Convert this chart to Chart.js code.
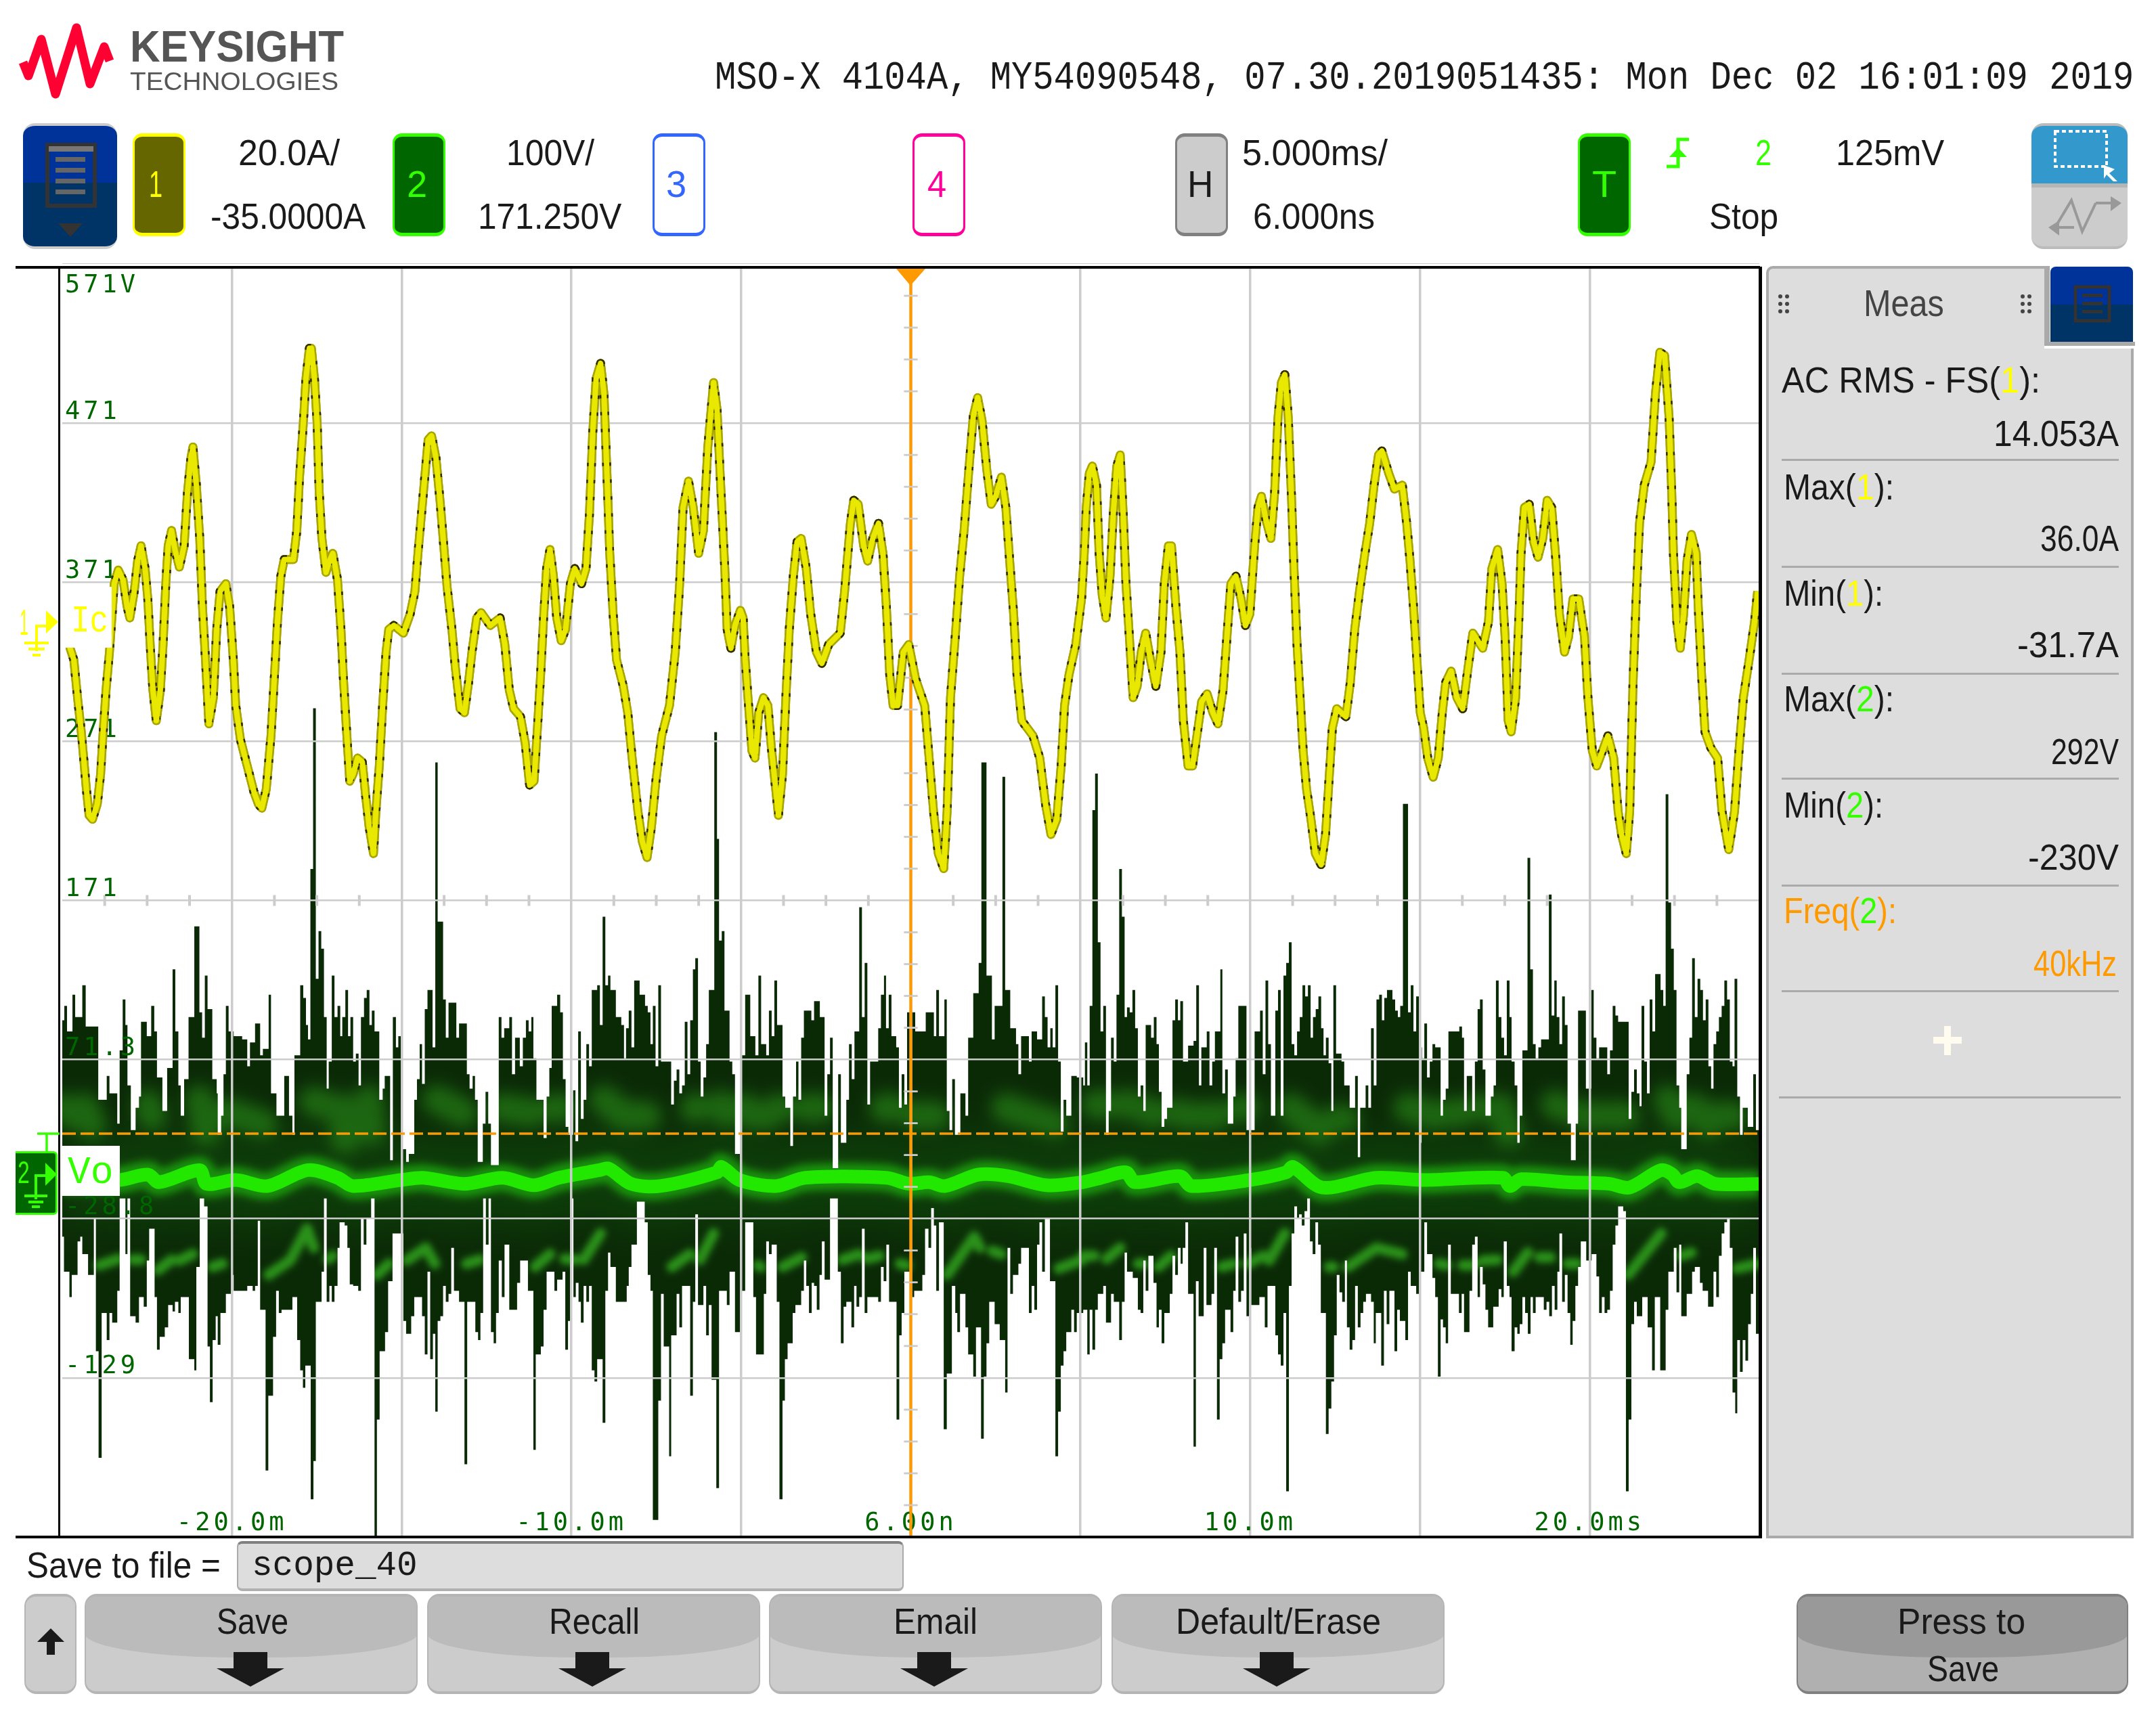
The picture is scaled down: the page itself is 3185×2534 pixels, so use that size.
<!DOCTYPE html>
<html>
<head>
<meta charset="utf-8">
<title>Scope capture</title>
<style>
  html, body { margin: 0; background: #fff; }
  #page { position: relative; width: 3185px; height: 2534px; overflow: hidden; }
  #page canvas { position: absolute; left: 0; top: 0; }
  .t, .b { position: absolute; }
  .t { white-space: pre; font-family: "Liberation Sans", sans-serif; color: #1a1a1a; transform-origin: 0 0; line-height: normal; }
</style>
<script src="https://cdn.jsdelivr.net/npm/chart.js@4"></script>
</head>
<body>
<div id="page"><canvas id="scope" width="3185" height="2534"></canvas></div>
<script>
// Axis ticks (5 ms/div, 100 V/div around 171.25 V, 20 A/div around -35 A)
const voltTicks = [571.25, 471.25, 371.25, 271.25, 171.25, 71.25, -28.75, -128.75, -228.75];
const voltLabels = [['', '', '571V'], '471', '371', '271', '171', '71.3', '-28.8', '-129', ''];
const timeTicks = [-20, -10, 0, 10, 20];
const timeLabels = ['-20.0m', '-10.0m', '6.00n', '10.0m', '20.0ms'];
const triggerVolts = 24.7;

// Channel 1, Ic (amps)
const ch1Time = [-25.02,-24.77,-24.66,-24.55,-24.44,-24.37,-24.29,-24.21,-24.11,-23.97,-23.87,-23.81,-23.71,-23.61,-23.47,-23.35,-23.21,-23.09,-23.01,-22.88,-22.78,-22.68,-22.56,-22.48,-22.41,-22.33,-22.23,-22.11,-22.03,-21.95,-21.88,-21.78,-21.68,-21.55,-21.41,-21.31,-21.21,-21.15,-21.05,-20.95,-20.87,-20.78,-20.68,-20.55,-20.45,-20.35,-20.18,-20.07,-19.96,-19.89,-19.75,-19.55,-19.35,-19.22,-19.12,-18.99,-18.85,-18.76,-18.66,-18.56,-18.46,-18.19,-18.09,-18.01,-17.90,-17.82,-17.72,-17.66,-17.57,-17.49,-17.43,-17.35,-17.23,-17.13,-17.03,-16.89,-16.79,-16.71,-16.63,-16.53,-16.43,-16.30,-16.16,-16.06,-15.96,-15.83,-15.76,-15.66,-15.56,-15.46,-15.38,-15.23,
  -14.95,-14.75,-14.61,-14.52,-14.42,-14.32,-14.22,-14.12,-13.99,-13.86,-13.76,-13.66,-13.52,-13.42,-13.28,-13.15,-13.03,-12.93,-12.79,-12.66,-12.39,-12.10,-11.96,-11.83,-11.70,-11.50,-11.36,-11.23,-11.10,-11.00,-10.90,-10.82,-10.73,-10.63,-10.53,-10.43,-10.30,-10.17,-10.03,-9.90,-9.70,-9.57,-9.47,-9.37,-9.27,-9.14,-9.04,-8.94,-8.87,-8.77,-8.67,-8.47,-8.34,-8.21,-8.04,-7.91,-7.77,-7.64,-7.51,-7.34,-7.11,-6.94,-6.81,-6.71,-6.55,-6.41,-6.25,-6.11,-5.98,-5.81,-5.71,-5.58,-5.48,-5.41,-5.30,-5.18,-5.02,
  -4.94,-4.88,-4.78,-4.68,-4.59,-4.48,-4.34,-4.21,-4.11,-3.98,-3.90,-3.78,-3.68,-3.58,-3.46,-3.35,-3.23,-3.08,-2.95,-2.78,-2.62,-2.42,-2.08,-1.95,-1.78,-1.68,-1.55,-1.39,-1.27,-1.12,-0.95,-0.82,-0.72,-0.62,-0.52,-0.39,-0.22,-0.06,0.14,0.41,0.54,0.67,0.81,0.97,1.07,1.17,1.31,1.44,1.57,1.71,1.84,1.97,2.10,2.24,2.37,2.50,2.67,2.80,2.93,3.03,3.13,3.27,3.60,3.80,3.97,4.13,4.30,4.43,4.53,4.66,4.86,5.03,
  5.11,5.17,5.26,5.35,5.47,5.55,5.64,5.75,5.87,5.97,6.07,6.17,6.26,6.34,6.44,6.55,6.67,6.79,6.92,7.06,7.22,7.37,7.47,7.59,7.68,7.81,7.93,8.03,8.17,8.30,8.43,8.57,8.73,8.90,9.05,9.20,9.33,9.43,9.58,9.73,9.86,9.99,10.13,10.23,10.33,10.46,10.61,10.72,10.82,10.92,11.02,11.12,11.22,11.29,11.38,11.47,11.56,11.66,11.79,11.92,12.09,12.22,12.32,12.42,12.55,12.82,12.95,13.08,13.22,13.38,13.52,13.65,13.78,13.88,14.08,14.25,14.48,14.61,14.71,14.81,14.91,15.01,
  15.11,15.23,15.39,15.54,15.66,15.76,15.92,16.09,16.26,16.42,16.56,16.85,17.02,17.12,17.29,17.42,17.51,17.60,17.69,17.82,17.92,17.98,18.08,18.22,18.35,18.48,18.62,18.75,18.88,19.01,19.11,19.26,19.38,19.51,19.68,19.85,19.95,20.08,20.21,20.38,20.54,20.71,20.84,20.94,21.08,21.18,21.28,21.37,21.47,21.61,21.81,21.94,22.07,22.21,22.34,22.42,22.47,22.57,22.67,22.77,22.87,23.00,23.14,23.20,23.30,23.40,23.57,23.77,23.90,24.10,24.27,24.40,24.53,24.70,24.86,24.95];
const ch1Amps = [4.05,-3.3,-4.74,-9.51,-13.8,-17.1,-21,-24.3,-24.8,-22.9,-19.1,-14.8,-8.55,-3.78,4.81,6.53,5.29,1.95,0.51,3.86,7.67,9.58,6.72,2.9,-2.83,-8.55,-12.4,-8.55,-2.83,4.81,9.58,11.5,9.11,6.91,9.58,16.3,20.6,22,17.2,10.5,1.95,-4.74,-12.8,-9.51,-0.92,3.86,4.81,1.95,-4.74,-10.5,-14.8,-18.1,-21.4,-22.9,-23.4,-21,-14.3,-7.6,0.03,5.76,7.86,7.86,11.5,18.2,24.9,30.6,34.4,34.4,30.6,24.9,16.3,10.5,6.24,7.67,8.63,5.29,-0.92,-7.6,-13.3,-20,-19.1,-17.1,-17.6,-21.9,-25.7,-29.1,-23.8,-18.1,-10.5,-3.78,-0.92,-0.44,
  -1.4,1,3.86,8.63,13.4,18.2,22.9,23.4,20.6,14.8,9.58,4.33,-0.92,-5.7,-10.9,-11.4,-7.6,-3.78,0.51,1.18,-0.44,0.51,-2.83,-8.55,-10.9,-11.9,-15.2,-20.5,-20,-13.3,-6.17,0.51,6.72,9.11,5.76,0.51,-2.35,-0.92,4.81,6.72,4.81,6.72,13.4,23.9,30.6,32.5,28.7,17.2,8.63,1,-4.74,-8.08,-11.4,-17.1,-23.8,-27.6,-29.6,-25.7,-20,-14.3,-10.5,-3.78,4.81,14.4,17.7,14.4,8.63,11.5,22,30.1,26.8,15.3,6.72,-0.92,-3.3,-0.44,1.47,
  0.51,-4.74,-10.5,-16.2,-17.1,-11.4,-9.51,-10.5,-15.7,-21,-24.3,-19.1,-9.51,-0.92,5.76,10.1,10.5,6.72,1,-3.78,-5.2,-2.83,-1.4,3.86,12.4,15.3,14.8,9.58,7.67,10.5,12.4,8.63,1.95,-6.65,-10.5,-10.5,-3.78,-2.83,-7.12,-10.5,-17.1,-23.8,-29.1,-31,-23.8,-9.51,-1.87,5.76,11.5,19.1,25.8,28.2,25.3,19.1,14.8,15.8,18.2,14.4,6.72,1,-6.65,-12.4,-14.3,-17.1,-22.9,-26.7,-24.8,-18.1,-10.5,-6.65,-2.83,2.9,
  8.63,14.4,18.7,19.6,17.2,8.63,3.38,0.51,5.76,13.9,19.6,21,13.4,4.81,-1.87,-9.51,-8.08,-3.78,-1.4,-4.74,-8.08,-3.78,4.81,9.58,9.58,1.95,-3.78,-12.4,-18.1,-18.1,-14.3,-10,-9.03,-11.4,-12.8,-8.55,-0.92,4.81,5.76,2.9,-0.44,1,9.58,14.4,15.8,12.9,10.5,16.3,25.8,30.1,31.1,25.8,15.3,6.72,-2.83,-9.51,-16.2,-21,-24.8,-29.1,-30.5,-26.7,-20,-13.3,-10.9,-11.9,-7.6,-0.92,3.86,8.63,12.4,17.2,21,21.5,18.7,16.7,17.2,12.4,7.67,1.95,-4.74,-11.4,
  -13.3,-17.1,-19.5,-17.1,-11.4,-7.6,-6.17,-9.51,-10.9,-5.69,-1.4,-3.3,0.03,6.72,9.11,4.81,-1.87,-12.4,-13.8,-9.51,1,8.63,14.4,14.8,10.1,8.15,10.5,15.3,14.4,7.67,1,-3.78,-1.87,2.9,2.9,-1.87,-9.51,-16.2,-18.1,-16.2,-14.3,-17.1,-23.8,-26.7,-29.1,-23.8,-7.6,2.9,12.4,17.2,20.1,28.7,33.9,33.5,25.8,16.3,8.63,0.03,-3.3,1,7.67,11,8.63,1.95,-6.65,-13.8,-15.8,-17.1,-23.8,-28.6,-23.8,-16.2,-9.51,-4.74,0.03,3.86];

// Channel 2, Vo: upper edge of the persistence envelope (volts)
const ch2UpperTime = [-25.07,-24.94,-24.86,-24.70,-24.62,-24.41,-24.31,-23.94,-23.69,-23.61,-23.38,-23.31,-23.22,-23.14,-23.08,-22.98,-22.84,-22.74,-22.68,-22.51,-22.38,-22.29,-22.21,-22.05,-21.91,-21.75,-21.67,-21.58,-21.51,-21.41,-21.28,-21.11,-20.96,-20.88,-20.80,-20.72,-20.58,-20.45,-20.42,-20.32,-20.25,-20.18,-20.10,-19.95,-19.70,-19.55,-19.47,-19.32,-19.17,-19.09,-18.92,-18.85,-18.69,-18.46,-18.32,-18.22,-18.16,-17.99,-17.90,-17.82,-17.76,-17.69,-17.61,-17.53,-17.45,-17.37,-17.29,-17.21,-17.15,-17.06,-16.98,-16.89,-16.81,-16.75,-16.66,-16.58,-16.51,-16.43,-16.35,-16.27,-16.20,-16.11,-16.03,-15.95,-15.88,-15.80,-15.66,-15.56,-15.50,-15.34,-15.26,-15.17,-15.10,
  -15.02,-14.87,-14.79,-14.63,-14.55,-14.47,-14.4,-14.32,-14.24,-14.09,-14.01,-13.94,-13.78,-13.7,-13.62,-13.39,-13.31,-13.08,-13.0,-12.91,-12.84,-12.76,-12.61,-12.53,-12.45,-12.37,-12.14,-12.06,-11.98,-11.83,-11.75,-11.66,-11.52,-11.43,-11.34,-11.26,-11.18,-11.12,-11.03,-10.82,-10.73,-10.65,-10.58,-10.42,-10.33,-10.25,-10.17,-10.09,-9.95,-9.88,-9.8,-9.72,-9.64,-9.56,-9.48,-9.4,-9.24,-9.16,-9.08,-9.0,-8.92,-8.85,-8.69,-8.53,-8.45,-8.39,-8.31,-8.23,-8.15,-7.99,-7.83,-7.75,-7.67,-7.6,-7.52,-7.44,-7.36,-7.12,-7.06,-6.98,-6.9,-6.82,-6.74,-6.66,-6.58,-6.5,-6.42,-6.35,-6.27,-6.19,-6.11,-6.03,-5.95,-5.79,-5.71,-5.65,-5.57,-5.49,-5.34,-5.26,-5.18,
  -4.98,-4.88,-4.73,-4.58,-4.49,-4.41,-4.26,-4.18,-4.1,-4.02,-3.94,-3.78,-3.7,-3.55,-3.47,-3.38,-3.31,-3.23,-3.15,-2.93,-2.85,-2.68,-2.54,-2.46,-2.38,-2.3,-2.14,-2.06,-1.9,-1.82,-1.74,-1.66,-1.52,-1.44,-1.36,-1.28,-1.2,-0.96,-0.88,-0.79,-0.73,-0.65,-0.57,-0.43,-0.35,-0.27,-0.19,-0.11,0.13,0.44,0.68,0.75,0.83,0.99,1.06,1.14,1.22,1.3,1.46,1.61,1.69,1.84,2.0,2.08,2.23,2.39,2.47,2.7,2.78,2.93,3.1,3.17,3.25,3.48,3.56,3.72,3.87,3.95,4.03,4.11,4.18,4.26,4.34,4.42,4.5,4.58,4.73,4.89,
  5.08,5.13,5.2,5.27,5.35,5.43,5.51,5.59,5.67,5.75,5.83,5.9,5.98,6.06,6.14,6.22,6.3,6.37,6.45,6.53,6.61,6.69,6.77,6.85,6.92,7.08,7.16,7.24,7.31,7.39,7.47,7.55,7.71,7.79,7.87,7.94,8.02,8.17,8.33,8.41,8.49,8.56,8.72,8.8,8.88,8.96,9.12,9.18,9.26,9.34,9.5,9.57,9.65,9.89,10.13,10.29,10.37,10.45,10.53,10.61,10.74,10.82,10.9,10.98,11.06,11.14,11.22,11.3,11.38,11.46,11.54,11.62,11.7,11.78,11.85,11.93,12.01,12.09,12.16,12.23,12.31,12.39,12.45,12.53,12.69,12.77,12.93,13.09,13.17,13.24,13.4,13.48,13.56,13.64,13.72,13.8,13.88,13.95,14.03,14.19,14.27,14.35,14.42,14.5,14.65,14.73,14.81,14.89,14.97,15.05,
  15.06,15.13,15.21,15.29,15.37,15.45,15.61,15.68,15.76,15.84,16.16,16.24,16.3,16.38,16.54,16.62,16.7,16.77,16.85,16.93,17.09,17.17,17.24,17.32,17.4,17.48,17.56,17.64,17.7,17.79,17.87,17.94,18.02,18.17,18.25,18.33,18.41,18.49,18.57,18.8,18.88,18.96,19.03,19.11,19.19,19.27,19.35,19.45,19.59,19.66,19.89,20.05,20.12,20.2,20.28,20.52,20.6,20.68,20.76,20.84,21.15,21.23,21.31,21.39,21.47,21.53,21.61,21.69,21.77,21.85,21.93,22.09,22.17,22.24,22.32,22.4,22.48,22.56,22.64,22.7,22.86,22.94,23.02,23.1,23.18,23.26,23.34,23.42,23.5,23.58,23.65,23.73,23.81,23.89,23.97,24.05,24.13,24.21,24.27,24.35,24.43,24.51,24.66,24.82,24.9,25];
const ch2UpperVolts = [96,105,89,112,98,118,92,46,61,50,31,77,109,93,55,27,41,48,95,86,105,89,60,39,66,128,89,55,36,59,98,155,101,85,124,103,59,50,24,36,62,105,89,86,84,67,82,94,74,78,112,50,36,61,36,24,74,118,110,93,84,191,292,122,152,141,98,53,70,124,98,105,86,98,115,86,98,70,75,55,98,110,115,93,102,89,46,53,61,8,98,79,86,
  15,7,12,46,59,81,56,103,115,79,258,158,109,85,107,85,94,62,53,61,46,7,31,51,31,5,98,85,91,98,62,85,67,85,96,89,98,72,46,22,48,66,105,112,101,59,29,24,52,20,89,34,46,81,67,115,118,93,161,118,124,115,98,93,72,91,102,79,121,112,105,101,81,105,67,118,70,70,43,58,65,50,55,95,62,96,128,135,70,48,60,81,115,277,210,146,152,102,70,62,12,
  74,112,86,74,124,81,74,102,86,121,93,48,41,17,48,70,46,85,102,96,108,98,36,62,85,3,62,19,46,81,59,89,167,98,132,43,70,91,112,124,91,112,86,79,41,62,43,101,89,101,86,115,86,109,39,27,59,24,50,36,85,113,132,258,124,84,105,249,115,91,81,62,86,70,89,84,111,98,79,91,79,118,70,26,46,36,61,60,
  55,82,55,105,228,251,145,89,105,24,39,85,70,112,191,161,98,104,101,115,91,48,55,39,93,85,98,81,51,29,34,41,96,109,96,108,70,80,83,118,55,79,89,55,70,89,128,50,65,31,48,72,105,27,89,102,62,121,81,36,102,115,36,124,132,145,81,74,89,98,118,111,118,85,98,103,111,91,74,85,69,39,118,75,70,55,41,61,10,41,55,41,91,55,109,112,96,110,115,109,102,98,105,232,101,118,89,111,19,79,
  72,94,60,70,81,79,36,46,53,89,92,85,39,61,39,70,103,109,65,36,48,55,121,98,85,74,121,98,70,55,19,36,77,198,128,81,72,79,84,175,99,121,98,81,111,93,31,8,31,102,53,115,85,72,79,62,77,105,99,95,34,51,65,50,42,105,70,50,109,89,125,115,105,238,170,141,115,55,41,15,62,85,135,98,122,115,96,109,67,53,81,89,98,105,121,109,70,67,122,48,24,41,29,62,27,27];

// Channel 2, Vo: lower edge of the persistence envelope (volts)
const ch2LowerTime = [-25.07,-24.95,-24.79,-24.72,-24.55,-24.47,-24.41,-24.24,-24.07,-24.01,-23.93,-23.84,-23.69,-23.61,-23.53,-23.38,-23.31,-23.14,-23.08,-23.0,-22.84,-22.74,-22.6,-22.51,-22.44,-22.28,-22.21,-22.13,-21.98,-21.88,-21.75,-21.68,-21.58,-21.51,-21.27,-21.11,-21.05,-20.95,-20.82,-20.72,-20.65,-20.57,-20.48,-20.42,-20.34,-20.18,-20.02,-19.95,-19.55,-19.39,-19.32,-19.24,-19.17,-19.01,-18.93,-18.79,-18.70,-18.62,-18.54,-18.22,-18.08,-17.99,-17.91,-17.84,-17.68,-17.6,-17.53,-17.36,-17.29,-17.21,-17.13,-17.06,-16.98,-16.89,-16.83,-16.68,-16.6,-16.53,-16.43,-16.28,-16.2,-16.12,-16.04,-15.9,-15.8,-15.73,-15.65,-15.49,-15.4,-15.27,
  -14.95,-14.87,-14.72,-14.63,-14.4,-14.32,-14.24,-14.16,-14.08,-14.01,-13.94,-13.86,-13.78,-13.7,-13.62,-13.54,-13.46,-13.31,-13.15,-13.07,-12.83,-12.75,-12.68,-12.6,-12.52,-12.44,-12.37,-12.29,-12.22,-12.14,-12.05,-11.97,-11.83,-11.6,-11.51,-11.28,-11.12,-11.05,-10.9,-10.82,-10.73,-10.5,-10.42,-10.26,-10.18,-10.1,-10.02,-9.94,-9.87,-9.79,-9.72,-9.64,-9.56,-9.48,-9.4,-9.32,-9.24,-9.08,-9.0,-8.92,-8.85,-8.69,-8.37,-8.31,-8.23,-8.07,-7.84,-7.75,-7.67,-7.6,-7.44,-7.36,-7.28,-7.12,-7.06,-6.9,-6.82,-6.74,-6.5,-6.42,-6.35,-6.27,-6.11,-6.03,-5.95,-5.87,-5.73,-5.65,-5.42,-5.34,-5.18,
  -4.98,-4.88,-4.64,-4.56,-4.33,-4.26,-4.18,-4.1,-3.95,-3.87,-3.78,-3.71,-3.63,-3.48,-3.4,-3.23,-3.15,-3.08,-3.0,-2.92,-2.85,-2.77,-2.69,-2.62,-2.54,-2.38,-2.15,-2.06,-1.98,-1.9,-1.75,-1.67,-1.6,-1.52,-1.44,-1.36,-1.28,-0.96,-0.88,-0.8,-0.72,-0.64,-0.42,-0.34,-0.27,-0.19,0.02,0.1,0.34,0.42,0.52,0.6,0.68,0.75,0.83,0.97,1.06,1.21,1.31,1.37,1.45,1.61,1.69,1.84,1.92,2.07,2.15,2.23,2.31,2.47,2.62,2.78,2.85,2.93,3.01,3.17,3.25,3.48,3.56,3.64,3.72,3.79,3.87,3.95,4.1,4.26,4.34,4.42,4.5,4.58,4.73,4.81,4.89,
  5.08,5.2,5.27,5.35,5.43,5.51,5.67,5.75,5.9,5.98,6.14,6.22,6.3,6.37,6.54,6.69,6.77,6.85,6.92,7.0,7.15,7.24,7.31,7.39,7.47,7.63,7.71,7.79,7.87,7.95,8.01,8.09,8.17,8.33,8.4,8.48,8.63,8.71,8.86,8.94,9.02,9.1,9.18,9.26,9.42,9.5,9.57,9.65,9.73,9.81,9.89,9.97,10.03,10.27,10.43,10.51,10.74,10.82,10.9,10.98,11.06,11.14,11.22,11.3,11.38,11.44,11.52,11.6,11.68,11.76,11.84,11.92,12.0,12.08,12.23,12.31,12.39,12.47,12.55,12.63,12.71,12.79,12.85,12.93,13.01,13.09,13.17,13.25,13.33,13.41,13.56,13.64,13.7,13.86,13.94,14.02,14.1,14.25,14.33,14.41,14.57,14.65,14.73,14.89,14.97,
  15.06,15.13,15.21,15.37,15.45,15.53,15.61,15.68,15.76,15.83,15.91,16.15,16.23,16.3,16.46,16.54,16.62,16.7,16.77,16.85,16.93,17.01,17.16,17.32,17.4,17.47,17.56,17.64,17.7,17.79,17.87,17.94,18.02,18.1,18.18,18.26,18.33,18.41,18.65,18.73,18.81,18.89,18.97,19.05,19.11,19.19,19.27,19.35,19.43,19.5,19.58,19.66,19.74,19.9,20.06,20.2,20.28,20.36,20.44,20.52,20.6,20.68,20.76,20.84,20.99,21.07,21.15,21.23,21.31,21.39,21.55,21.71,21.84,21.92,22.08,22.24,22.32,22.48,22.56,22.64,22.7,22.86,23.02,23.1,23.25,23.33,23.49,23.65,23.73,23.81,23.89,23.97,24.05,24.13,24.21,24.29,24.35,24.43,24.51,24.59,24.67,24.75,24.82,24.9,25];
const ch2LowerVolts = [-40,-62,-78,-64,-43,-40,-51,-64,-28,-112,-179,-88,-105,-88,-94,-74,-16,-51,-16,-90,-94,-78,-84,-55,-35,-78,-111,-103,-97,-83,-87,-81,-88,-78,-117,-124,-59,-16,-21,-109,-144,-105,-90,-108,-88,-76,-64,-74,-71,-74,-71,-30,-86,-187,-140,-103,-74,-88,-86,-78,-105,-124,-135,-121,-205,-181,-81,-62,-16,-81,-71,-81,-71,-47,-31,-33,-47,-70,-71,-74,-28,-45,-28,-16,-228,-155,-112,-100,-68,-38,
  -93,-101,-90,-78,-90,-114,-62,-117,-101,-150,-93,-90,-71,-81,-76,-47,-74,-81,-183,-81,-100,-105,-88,-16,-45,-16,-100,-107,-88,-55,-78,-45,-86,-69,-55,-74,-174,-114,-109,-86,-62,-74,-67,-62,-111,-93,-16,-78,-69,-81,-94,-71,-81,-71,-124,-131,-117,-157,-74,-50,-59,-81,-71,-59,-45,-18,-31,-64,-74,-218,-143,-76,-109,-178,-102,-76,-97,-71,-140,-81,-26,-83,-71,-102,-83,-130,-198,-74,-83,-62,-100,
  -74,-31,-78,-114,-76,-43,-51,-45,-81,-205,-143,-117,-107,-88,-83,-74,-55,-71,-88,-69,-71,-86,-64,-43,-67,-16,-62,-107,-84,-81,-97,-71,-84,-78,-35,-88,-78,-81,-59,-68,-45,-81,-155,-102,-88,-62,-78,-74,-64,-35,-47,-22,-33,-74,-31,-161,-126,-71,-88,-100,-76,-97,-114,-128,-97,-167,-128,-107,-81,-95,-105,-138,-47,-76,-64,-57,-47,-88,-71,-86,-45,-31,-62,-28,-68,-178,-150,-121,-112,-100,-86,-100,-88,
  -86,-114,-86,-111,-86,-76,-71,-94,-76,-81,-105,-81,-50,-62,-66,-86,-88,-55,-74,-52,-69,-97,-86,-107,-88,-76,-52,-64,-47,-57,-47,-31,-76,-172,-68,-90,-47,-83,-76,-47,-155,-117,-107,-86,-100,-74,-40,-81,-74,-38,-90,-47,-83,-78,-97,-71,-102,-114,-121,-88,-200,-71,-38,-21,-28,-26,-33,-24,-16,-43,-51,-31,-45,-88,-164,-148,-131,-102,-64,-75,-81,-55,-97,-111,-105,-71,-97,-88,-81,-76,-81,-107,-88,-121,-74,-95,-74,-112,-86,-93,-105,-62,-71,-76,-62,
  -62,-31,-51,-66,-78,-128,-92,-97,-107,-45,-76,-88,-76,-100,-74,-45,-40,-78,-59,-70,-86,-97,-84,-73,-78,-43,-71,-78,-112,-97,-101,-95,-78,-88,-101,-78,-88,-78,-86,-81,-90,-71,-86,-62,-38,-81,-64,-88,-108,-93,-71,-59,-43,-55,-51,-65,-88,-78,-88,-86,-74,-45,-33,-21,-24,-200,-155,-95,-81,-90,-78,-97,-124,-78,-124,-86,-62,-47,-75,-45,-90,-76,-62,-59,-69,-74,-84,-62,-78,-52,-38,-31,-28,-47,-138,-151,-105,-125,-105,-118,-95,-76,-47,-101,-101];

// Channel 2, Vo: bright trace through the middle (volts)
const ch2CoreTime = [-25,-23.31,-22.48,-22.15,-20.95,-20.75,-19.89,-18.95,-17.76,-16.89,-16.43,-15.02,-14.36,-13.16,-12.03,-11.10,-10.37,-9.17,-8.9,-8.24,-7.38,-5.71,-5.58,-5.05,-3.98,-3.11,-0.72,-0.06,0.54,1.01,2.0,2.87,4.0,5.06,5.61,6.34,6.6,7.93,8.27,9.99,11.06,11.26,12.12,13.72,15.11,17.45,17.65,17.98,19.31,20.58,21.18,22.11,22.44,22.64,23.17,23.7,25];
const ch2CoreVolts = [-5,-4.4,-1,-5.8,1.8,-6.8,-4.4,-8.2,1.8,-3,-8.2,-4.4,-3,-6.8,-3,-7.7,-3,1.8,2.8,-6.8,-8.2,0.4,3.8,-4.4,-8.2,-3,-3,-6.8,-5.8,-8.2,-1,-2,-7.7,-5.8,-3,0.4,-5.8,-2,-8.2,-4.4,0.4,3.8,-9.1,-3,-4.4,-3,-8.2,-3.9,-5.8,-6.8,-9.1,1.8,-1,-5.8,-2,-6.8,-6.8];

// Channel 2, Vo: faint green patches above the trace (volts, null breaks a patch)
const ch2PatchHighTime = [-25,-24.67,-24.34,-24.14,-24.1,-22.48,-22.35,-22.3,-20.95,-20.75,-20.7,-20.08,-19.09,-19,-17.6,-17.3,-17.2,-16.76,-16.66,-16.6,-15.96,-15.9,-15.8,-13.96,-13.19,-13.1,-12.03,-11.17,-11.1,-10.5,-10.3,-10.2,-9.04,-8.44,-7.78,-7.7,-6.38,-6.31,-6.3,-5.58,-5.45,-5.4,-4.88,-4.64,-4.6,-4.24,-3.88,-3.8,-3.08,-2.65,-2.6,-0.79,-0.52,-0.5,0.14,0.74,0.8,2.8,4.26,4.3,5.44,5.67,5.7,6.24,6.57,6.6,7.0,7.2,7.3,7.87,8.2,8.3,8.7,9.0,9.1,9.73,9.86,9.9,11.19,12.05,12.1,12.59,12.78,12.8,14.65,15.46,15.5,15.92,16.19,16.2,16.72,16.82,16.9,17.39,17.62,17.7,18.98,19.21,19.3,19.78,20.24,20.3,20.71,21.04,21.1,22.31,22.57,22.6,23.1,23.5,23.6,23.83,24.23];
const ch2PatchHighVolts = [41,36,41,31,null,43,36,null,46,27,null,38,31,null,45,43,null,41,22,null,46,27,null,46,38,null,41,38,null,41,41,null,46,36,36,null,41,41,null,43,38,null,41,36,null,36,41,null,41,41,null,41,41,null,36,36,null,41,31,null,43,43,null,43,43,null,38,38,null,38,36,null,36,36,null,41,41,null,41,27,null,34,34,null,41,36,null,38,38,null,41,41,null,41,26,null,43,41,null,36,36,null,36,36,null,46,36,null,41,31,null,36,36];

// Channel 2, Vo: brighter green streaks below the trace (volts, null breaks a streak)
const ch2PatchLowTime = [-23.91,-23.34,-23.3,-22.94,-22.68,-22.6,-22.18,-21.78,-21.7,-21.55,-21.15,-21.1,-20.58,-20.28,-20.2,-18.92,-18.29,-17.79,-17.59,-17.5,-17.16,-17.03,-17,-15.73,-15.37,-15.3,-14.85,-14.29,-14.02,-14,-13.09,-12.69,-12.6,-11.07,-10.63,-10.6,-10.2,-9.9,-9.8,-9.64,-9.14,-9.1,-7.04,-6.51,-6.5,-6.21,-5.81,-5.8,-4.51,-4.41,-4.4,-3.78,-3.21,-3.2,-2.02,-1.52,-1.5,-1.29,-0.92,-0.9,-0.32,-0.12,-0.1,1.07,1.87,2.04,2.1,2.4,2.67,2.7,4.36,5.06,5.07,5.08,5.41,5.5,5.77,6.17,6.2,6.7,6.87,6.9,7.3,7.67,7.7,9.16,9.53,9.6,9.93,10.39,10.4,10.56,11.02,11.1,12.32,12.45,12.5,12.88,13.72,14.48,14.5,15.56,15.79,15.8,16.26,16.59,16.6,16.85,17.29,17.3,17.75,18.18,18.2,18.52,18.85,18.9,19.35,19.65,19.7,21.14,22.11,22.2,22.7,23,23.1,24.33,24.96];
const ch2PatchLowVolts = [-58,-54,null,-54.5,-54.5,null,-61,-54.5,null,-55,-51,null,-59,-57,null,-64,-55,-35,-47,null,-54,-52,null,-64,-57,null,-55,-47,-57,null,-57,-54.5,null,-59,-51,null,-54,-54.5,null,-54.5,-38,null,-59,-51,null,-54.5,-38,null,-58,-59,null,-59,-53,null,-54.5,-51,null,-54,-52,null,-57,-58,null,-64,-40,-47,null,-49,-51,null,-60,-54.5,null,-52,-52,null,-54,-47,null,-57,-57,null,-59,-52,null,-59,-57,null,-57,-52,null,-55,-38,null,-59,-59,null,-59,-47,-51,null,-57,-58,null,-58,-58,null,-55,-54.5,null,-62,-50,null,-53,-53,null,-57,-57,null,-64,-38,null,-52,-50,null,-60,-57];

const minorTimes = [-23.75,-22.5,-21.25,-18.75,-17.5,-16.25,-13.75,-12.5,-11.25,-8.75,-7.5,-6.25,-3.75,-2.5,-1.25,1.25,2.5,3.75,6.25,7.5,8.75,11.25,12.5,13.75,16.25,17.5,18.75,21.25,22.5,23.75];
const minorVolts = [551.25,531.25,511.25,491.25,451.25,431.25,411.25,391.25,351.25,331.25,311.25,291.25,251.25,231.25,211.25,191.25,151.25,131.25,111.25,91.25,51.25,31.25,11.25,-8.75,-48.75,-68.75,-88.75,-108.75,-148.75,-168.75,-188.75,-208.75];

function zip(xs, ys) { return xs.map((x, i) => ({ x: x, y: ys[i] })); }

function trace(data, color, width, extra) {
  return Object.assign({ data: data, borderColor: color, borderWidth: width, pointRadius: 0, yAxisID: 'volts', fill: false, borderJoinStyle: 'round' }, extra || {});
}

// Listed bottom to top. top:true is drawn again above the grid, soft:n is blurred by n px
// and painted only over the dark envelope.
const layers = [
  trace(zip(ch2UpperTime, ch2UpperVolts), '#0a2a06', 0, { stepped: true, backgroundColor: '#0a2a06', fill: { value: -5 } }),
  trace(zip(ch2LowerTime, ch2LowerVolts), '#0a2a06', 0, { stepped: true, backgroundColor: '#0a2a06', fill: { value: -5 } }),
  trace(zip(ch2CoreTime, ch2CoreVolts), 'rgba(16,80,10,0.45)', 130, { soft: 22 }),
  trace(zip(ch2PatchHighTime, ch2PatchHighVolts), 'rgba(40,140,24,0.6)', 44, { borderCapStyle: 'round', soft: 11 }),
  trace(zip(ch2PatchLowTime, ch2PatchLowVolts), 'rgba(50,170,30,0.8)', 16, { borderCapStyle: 'round', soft: 5 }),
  trace(zip(ch2CoreTime, ch2CoreVolts), 'rgba(30,190,12,0.65)', 40, { tension: 0.3, soft: 6 }),
  trace(zip(ch2CoreTime, ch2CoreVolts), '#22e800', 20, { tension: 0.3 }),
  trace(minorTimes.map(t => ({ x: t, y: 171.25 })), '#cccccc', 0, { showLine: false, pointStyle: 'line', pointRadius: 8, pointRotation: 90, pointBorderWidth: 4, pointBorderColor: '#cccccc' }),
  trace(zip([-25, 25], [triggerVolts, triggerVolts]), '#ff9900', 3, { borderDash: [20, 7], top: true }),
  trace(zip([0, 0], [-228.75, 571.25]), '#ff9900', 4, { top: true }),
  trace(minorVolts.map(v => ({ x: 0, y: v })), '#cccccc', 0, { showLine: false, pointStyle: 'line', pointRadius: 10, pointBorderWidth: 2.5, pointBorderColor: '#cccccc', top: true }),
  trace(zip(ch1Time, ch1Amps), '#aaa600', 13, { yAxisID: 'amps', top: true }),
  trace(zip(ch1Time, ch1Amps), '#2e2c00', 13, { yAxisID: 'amps', borderDash: [5, 20], top: true }),
  trace(zip(ch1Time, ch1Amps), '#e8e800', 8, { yAxisID: 'amps', top: true })
];

new Chart(document.getElementById('scope'), {
  type: 'line',
  data: { datasets: layers.slice().reverse() },
  options: {
    responsive: false,
    animation: false,
    devicePixelRatio: 1,
    layout: { padding: { left: 92, right: 586, top: 390, bottom: 263 } },
    plugins: { legend: { display: false }, tooltip: { enabled: false } },
    scales: {
      x: {
        type: 'linear', min: -25, max: 25,
        afterFit: s => { s.height = 0; },
        border: { display: false },
        grid: { z: 1, drawTicks: false, lineWidth: 3.5, color: c => Math.abs(c.tick.value) === 25 ? 'transparent' : '#cccccc' },
        ticks: {
          z: 1, stepSize: 5, autoSkip: false, maxRotation: 0, mirror: true, padding: -3, color: '#006600',
          font: { family: 'DejaVu Sans Mono', size: 37 },
          callback: v => { const i = timeTicks.indexOf(v); return i < 0 ? '' : timeLabels[i]; }
        }
      },
      volts: {
        type: 'linear', position: 'left', min: -228.75, max: 571.25,
        afterFit: s => { s.width = 0; },
        afterBuildTicks: s => { s.ticks = voltTicks.map(v => ({ value: v })); },
        border: { display: false },
        grid: { z: 1, drawTicks: false, lineWidth: 2.6, color: '#cccccc' },
        ticks: {
          z: 1, mirror: true, padding: 4, labelOffset: -16, autoSkip: false, color: '#006600',
          font: { family: 'DejaVu Sans Mono', size: 37, lineHeight: 1.3 },
          callback: (v, i) => voltLabels[i]
        }
      },
      amps: { type: 'linear', position: 'right', min: -115, max: 45, display: false }
    }
  },
  plugins: [{
    id: 'scopeLook',
    beforeDraw(chart) { chart.ctx.letterSpacing = '5px'; },
    beforeDatasetDraw(chart, args) {
      const soft = chart.data.datasets[args.index].soft;
      if (soft) {
        chart.ctx.filter = `blur(${soft}px)`;
        chart.ctx.globalCompositeOperation = 'source-atop';
      }
    },
    afterDatasetDraw(chart) {
      chart.ctx.filter = 'none';
      chart.ctx.globalCompositeOperation = 'source-over';
    },
    afterDraw(chart) {
      const a = chart.chartArea, ctx = chart.ctx;
      ctx.save();
      ctx.beginPath();
      ctx.rect(a.left, a.top, a.right - a.left, a.bottom - a.top);
      ctx.clip();
      for (let i = chart.data.datasets.length - 1; i >= 0; i--) {
        if (chart.data.datasets[i].top) chart.getDatasetMeta(i).controller.draw();
      }
      ctx.restore();
    }
  }]
});

// Instrument panel around the chart
const page = document.getElementById('page');

function box(x, y, w, h, css) {
  const d = document.createElement('div');
  d.className = 'b';
  d.style.cssText = `left:${x}px;top:${y}px;width:${w}px;height:${h}px;box-sizing:border-box;` + (css || '');
  page.appendChild(d);
  return d;
}

// Text squeezed to run from x to xEnd, with its baseline on y
function text(str, x, xEnd, y, size, css) {
  const d = document.createElement('div');
  d.className = 't';
  d.style.cssText = `left:${x}px;top:${y - size * 0.905}px;font-size:${size}px;` + (css || '');
  d.innerHTML = str;
  page.appendChild(d);
  d.style.transform = `scaleX(${(xEnd - x) / d.offsetWidth})`;
  return d;
}

function svg(markup) {
  const s = document.createElement('div');
  s.className = 'b';
  s.style.cssText = 'left:0;top:0;width:3185px;height:2534px;pointer-events:none;';
  s.innerHTML = `<svg width="3185" height="2534" xmlns="http://www.w3.org/2000/svg">${markup}</svg>`;
  page.appendChild(s);
}

// plot frame
box(23, 390, 2581, 4, 'background:#fff;');
box(23, 393, 2577, 4, 'background:#000;');
box(23, 2269, 2579, 4, 'background:#000;');
box(86, 394, 3, 1877, 'background:#000;');
box(2598, 394, 5, 1879, 'background:#000;');

// logo and header
svg(`<polyline points="34,92 42,112 61,58 82,139 113,41 133,124 154,69 162,90" fill="none" stroke="#ff0033" stroke-width="13" stroke-linejoin="round"/>`);
text('KEYSIGHT', 192, 508, 90, 64, 'font-weight:bold;color:#555;');
text('TECHNOLOGIES', 192, 500, 133, 36, 'color:#555;');
text('MSO-X 4104A, MY54090548, 07.30.2019051435: Mon Dec 02 16:01:09 2019', 1056, 3152, 135, 60, 'font-family:\'Liberation Mono\';');

// softkey at the left of the channel row
box(34, 182, 139, 186, 'border-radius:18px;background:linear-gradient(#003399 47%,#003366 47%);border-top:4px solid #ccc;border-bottom:4px solid #ccc;');
svg(`<rect x="70" y="214" width="70" height="90" fill="none" stroke="#333" stroke-width="6"/><rect x="72" y="216" width="66" height="8" fill="#777"/>
  <g fill="#666"><rect x="82" y="232" width="44" height="7"/><rect x="82" y="248" width="44" height="7"/><rect x="82" y="264" width="44" height="7"/><rect x="82" y="280" width="44" height="7"/></g>
  <polygon points="86,330 122,330 104,350" fill="#333"/>`);

// channel, horizontal and trigger softkeys
function chanBox(x, fill, edge, label, labelColor, gx, gw) {
  box(x, 197, 78, 152, `background:${fill};border:3px solid ${edge};border-top-width:5px;border-bottom-width:5px;border-radius:14px;`);
  text(label, x + gx, x + gx + gw, 290, 56, `color:${labelColor};`);
}
chanBox(196, '#666600', '#ffff00', '1', '#ffff00', 24, 20);
chanBox(580, '#006600', '#33ff00', '2', '#33ff00', 21, 30);
chanBox(964, '#ffffff', '#3366ff', '3', '#3366ff', 20, 30);
chanBox(1348, '#ffffff', '#ff0099', '4', '#ff0099', 22, 28);
chanBox(1736, '#cccccc', '#808080', 'H', '#1a1a1a', 18, 38);
chanBox(2331, '#006600', '#33ff00', 'T', '#33ff00', 21, 36);

text('20.0A/', 352, 502, 243, 54);
text('-35.0000A', 311, 540, 337, 54);
text('100V/', 748, 878, 243, 54);
text('171.250V', 706, 918, 337, 54);
text('5.000ms/', 1835, 2050, 243, 54);
text('6.000ns', 1851, 2031, 337, 54);
text('2', 2593, 2617, 243, 54, 'color:#33ff00;');
text('125mV', 2712, 2872, 243, 54);
text('Stop', 2525, 2627, 337, 54);
svg(`<path d="M2495,206 H2479 V246 H2462" fill="none" stroke="#33ff00" stroke-width="5"/><polygon points="2479,218 2466,232 2492,232" fill="#33ff00"/>`);

// zoom / navigate softkey
box(3001, 182, 142, 186, 'border-radius:18px;background:linear-gradient(#3399cc 48%,#b5b5b5 48%,#b5b5b5 51%,#cccccc 51%);border-top:4px solid #bbb;border-bottom:4px solid #bbb;');
svg(`<rect x="3036" y="194" width="76" height="52" fill="none" stroke="#fff" stroke-width="4" stroke-dasharray="6 4"/>
  <polygon points="3108,244 3124,250 3116,256 3128,268 3122,268 3112,258 3108,264" fill="#fff"/>
  <path d="M3036,336 L3060,296 L3076,342 L3096,300 M3096,300 H3120 M3064,336 H3036" fill="none" stroke="#999" stroke-width="4"/>
  <polygon points="3118,290 3118,312 3134,300" fill="#999"/><polygon points="3042,326 3042,348 3026,336" fill="#999"/>`);

// trigger marker on the top of the plot
svg(`<polygon points="1324,397 1367,397 1345,422" fill="#ff9900"/>`);

// ground references and waveform names, with their white boxes over the traces
box(92, 867, 73, 90, 'background:#fff;');
text('Ic', 105, 160, 937, 56, 'font-family:\'Liberation Mono\';color:#ffff00;');
text('1', 29, 42, 937, 54, 'color:#ffff00;');
svg(`<path d="M54,962 V925 H70" fill="none" stroke="#ffff00" stroke-width="4"/><polygon points="68,902 86,919 68,936" fill="#ffff00"/>
  <g fill="#ffff00"><rect x="36" y="948" width="36" height="4"/><rect x="42" y="957" width="24" height="4"/><rect x="48" y="966" width="12" height="4"/></g>`);
box(90, 1693, 87, 74, 'background:#fff;');
text('Vo', 100, 168, 1752, 58, 'font-family:\'Liberation Mono\';color:#33ff00;');
box(23, 1701, 62, 94, 'background:#006600;border:3px solid #33ff00;border-left:none;border-radius:0 6px 6px 0;');
svg(`<path d="M55,1675 H88 M69,1675 V1701" fill="none" stroke="#33ff00" stroke-width="3.5"/>
  <path d="M53,1772 V1737 H70" fill="none" stroke="#33ff00" stroke-width="4"/><polygon points="67,1718 84,1735 67,1752" fill="#33ff00"/>
  <g fill="#33ff00"><rect x="36" y="1765" width="34" height="4"/><rect x="42" y="1774" width="22" height="4"/><rect x="47" y="1781" width="12" height="4"/></g>`);
text('2', 26, 44, 1747, 46, 'color:#33ff00;');

// measurement panel
box(2609, 393, 543, 1880, 'background:#dddddd;border:4px solid #aaaaaa;border-top:4px solid #aaaaaa;border-radius:10px 0 0 0;');
box(3020, 393, 134, 122, 'background:#fff;');
box(3020, 505, 134, 6, 'background:#aaaaaa;');
box(3020, 393, 8, 118, 'background:#aaaaaa;');
box(3029, 394, 122, 111, 'background:linear-gradient(#003399 50%,#003366 50%);border-radius:8px 8px 0 0;');
svg(`<rect x="3066" y="424" width="50" height="50" fill="none" stroke="#333" stroke-width="5"/>
  <g fill="#333"><rect x="3076" y="434" width="30" height="5"/><rect x="3076" y="446" width="30" height="5"/><rect x="3076" y="458" width="30" height="5"/></g>
  <g fill="#444"><circle cx="2630" cy="438" r="3"/><circle cx="2640" cy="438" r="3"/><circle cx="2630" cy="449" r="3"/><circle cx="2640" cy="449" r="3"/><circle cx="2630" cy="460" r="3"/><circle cx="2640" cy="460" r="3"/>
  <circle cx="2988" cy="438" r="3"/><circle cx="2998" cy="438" r="3"/><circle cx="2988" cy="449" r="3"/><circle cx="2998" cy="449" r="3"/><circle cx="2988" cy="460" r="3"/><circle cx="2998" cy="460" r="3"/></g>`);
text('Meas', 2753, 2872, 466, 56, 'color:#444;');

const yellowOne = '<span style="color:#ffff00">1</span>';
const greenTwo = '<span style="color:#33ff00">2</span>';
text(`AC RMS - FS(${yellowOne}):`, 2632, 3014, 579, 54);
text('14.053A', 2945, 3130, 658, 54);
text(`Max(${yellowOne}):`, 2635, 2798, 737, 54);
text('36.0A', 3014, 3130, 813, 54);
text(`Min(${yellowOne}):`, 2635, 2782, 894, 54);
text('-31.7A', 2980, 3130, 970, 54);
text(`Max(${greenTwo}):`, 2635, 2798, 1050, 54);
text('292V', 3030, 3130, 1128, 54);
text(`Min(${greenTwo}):`, 2635, 2782, 1207, 54);
text('-230V', 2996, 3130, 1284, 54);
text(`Freq(${greenTwo}):`, 2635, 2802, 1363, 54, 'color:#ff9900;');
text('40kHz', 3004, 3127, 1441, 54, 'color:#ff9900;');
[678, 836, 994, 1149, 1307, 1463].forEach(y => box(2632, y, 498, 3, 'background:#aaaaaa;'));
box(2628, 1620, 505, 3, 'background:#aaaaaa;');
box(2856, 1532, 42, 10, 'background:#fffbee;');
box(2872, 1516, 10, 43, 'background:#fffbee;');

// save row
text('Save to file =', 39, 326, 2330, 54);
box(350, 2277, 985, 74, 'background:#dddddd;border:2px solid #aaaaaa;border-top:4px solid #808080;border-bottom:4px solid #b0b0b0;border-radius:8px;');
text('scope_40', 372, 617, 2331, 52, 'font-family:\'Liberation Mono\';');

// softkeys along the bottom
function softkey(x, w, face, dome, edge) {
  const k = box(x, 2355, w, 148, `background:${face};border:2px solid ${edge};border-top-width:4px;border-bottom-width:4px;border-radius:18px;overflow:hidden;`);
  const d = document.createElement('div');
  d.style.cssText = `position:absolute;left:-2px;right:-2px;top:-4px;height:94px;background:${dome};border-radius:0 0 45% 45% / 0 0 38% 38%;`;
  k.appendChild(d);
}
function downArrow(cx) {
  svg(`<polygon points="${cx - 25},2441 ${cx + 25},2441 ${cx + 25},2465 ${cx + 50},2465 ${cx},2492 ${cx - 50},2465 ${cx - 25},2465" fill="#1a1a1a"/>`);
}
softkey(36, 77, '#cccccc', '#cccccc', '#b5b5b5');
svg(`<polygon points="75,2406 95,2426 81,2426 81,2445 69,2445 69,2426 55,2426" fill="#1a1a1a"/>`);
softkey(125, 492, '#cccccc', '#bbbbbb', '#b5b5b5');
softkey(631, 492, '#cccccc', '#bbbbbb', '#b5b5b5');
softkey(1136, 492, '#cccccc', '#bbbbbb', '#b5b5b5');
softkey(1642, 492, '#cccccc', '#bbbbbb', '#b5b5b5');
softkey(2654, 490, '#b0b0b0', '#999999', '#808080');
text('Save', 320, 426, 2413, 54);
text('Recall', 811, 945, 2413, 54);
text('Email', 1320, 1444, 2413, 54);
text('Default/Erase', 1737, 2040, 2413, 54);
text('Press to', 2803, 2992, 2413, 54);
text('Save', 2847, 2953, 2483, 54);
downArrow(370); downArrow(875); downArrow(1380); downArrow(1886);
</script>
</body>
</html>
